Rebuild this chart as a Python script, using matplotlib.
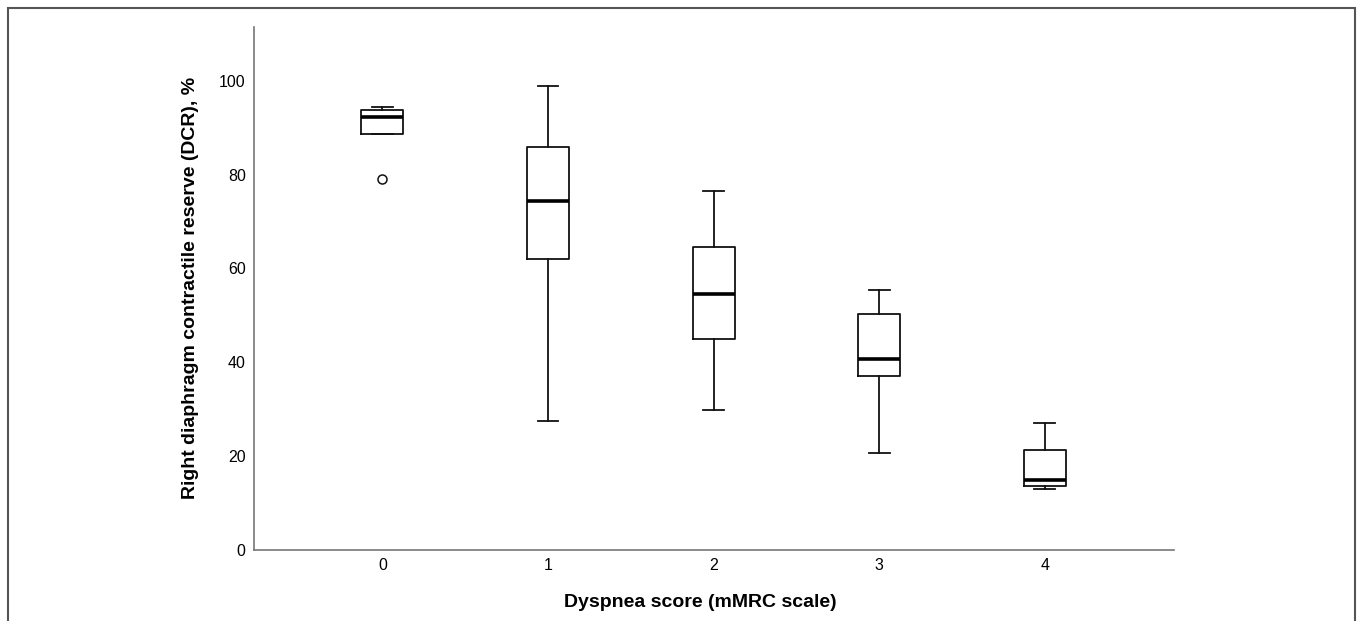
#!/usr/bin/env python3

import matplotlib
matplotlib.use("Agg")
import matplotlib.pyplot as plt
from matplotlib.patches import Rectangle

plt.rcParams['font.family'] = ['Liberation Sans', 'DejaVu Sans']

# values
scores = ['0', '1', '2', '3', '4']
whisker_low = [88.6, 27.5, 29.9, 20.6, 12.9]
q1 = [88.6, 62.0, 44.9, 37.0, 13.5]
medians = [92.2, 74.4, 54.6, 40.7, 14.8]
q3 = [93.7, 85.9, 64.6, 50.3, 21.3]
whisker_high = [94.5, 98.9, 76.5, 55.3, 27.0]
outliers = [[79.1], [], [], [], []]

stats = []
for i, lab in enumerate(scores):
    stats.append(dict(label=lab, whislo=whisker_low[i], q1=q1[i], med=medians[i],
                      q3=q3[i], whishi=whisker_high[i], fliers=outliers[i]))

fig = plt.figure(figsize=(13.57, 6.21), dpi=100)
ax = fig.add_axes([254 / 1357, 1 - 549.7 / 621, 920 / 1357, 522.7 / 621])

ax.bxp(stats, positions=range(len(scores)), widths=0.253, capwidths=0.125,
       boxprops=dict(color='#111111', linewidth=1.3),
       whiskerprops=dict(color='#111111', linewidth=1.3),
       capprops=dict(color='#111111', linewidth=1.3),
       medianprops=dict(color='black', linewidth=2.6),
       flierprops=dict(marker='o', markersize=6.5, markerfacecolor='white',
                       markeredgecolor='#111111', markeredgewidth=1.1))

ax.set_xlim(-0.775, 4.78)
ax.set_ylim(0, 111.5)
ax.set_yticks([0, 20, 40, 60, 80, 100])
ax.tick_params(length=0, labelsize=11.5, colors='black')
ax.tick_params(axis='y', pad=6)
ax.tick_params(axis='x', pad=6)

for side in ['top', 'right']:
    ax.spines[side].set_visible(False)
for side in ['left', 'bottom']:
    ax.spines[side].set_color('#777777')
    ax.spines[side].set_linewidth(1.2)

ax.set_xlabel('Dyspnea score (mMRC scale)', fontsize=14, fontweight='bold')
ax.set_ylabel('Right diaphragm contractile reserve (DCR), %', fontsize=14, fontweight='bold')
ax.xaxis.set_label_coords(0.485, -0.085)
ax.yaxis.set_label_coords(-0.060, 0.5)

# frame around the whole figure
fig.patches.append(Rectangle((8 / 1357, -0.1), 1347 / 1357, 1.1 - 8 / 621,
                             transform=fig.transFigure, fill=False,
                             edgecolor='#555555', linewidth=1.5))

fig.savefig("out.png", dpi=100)
